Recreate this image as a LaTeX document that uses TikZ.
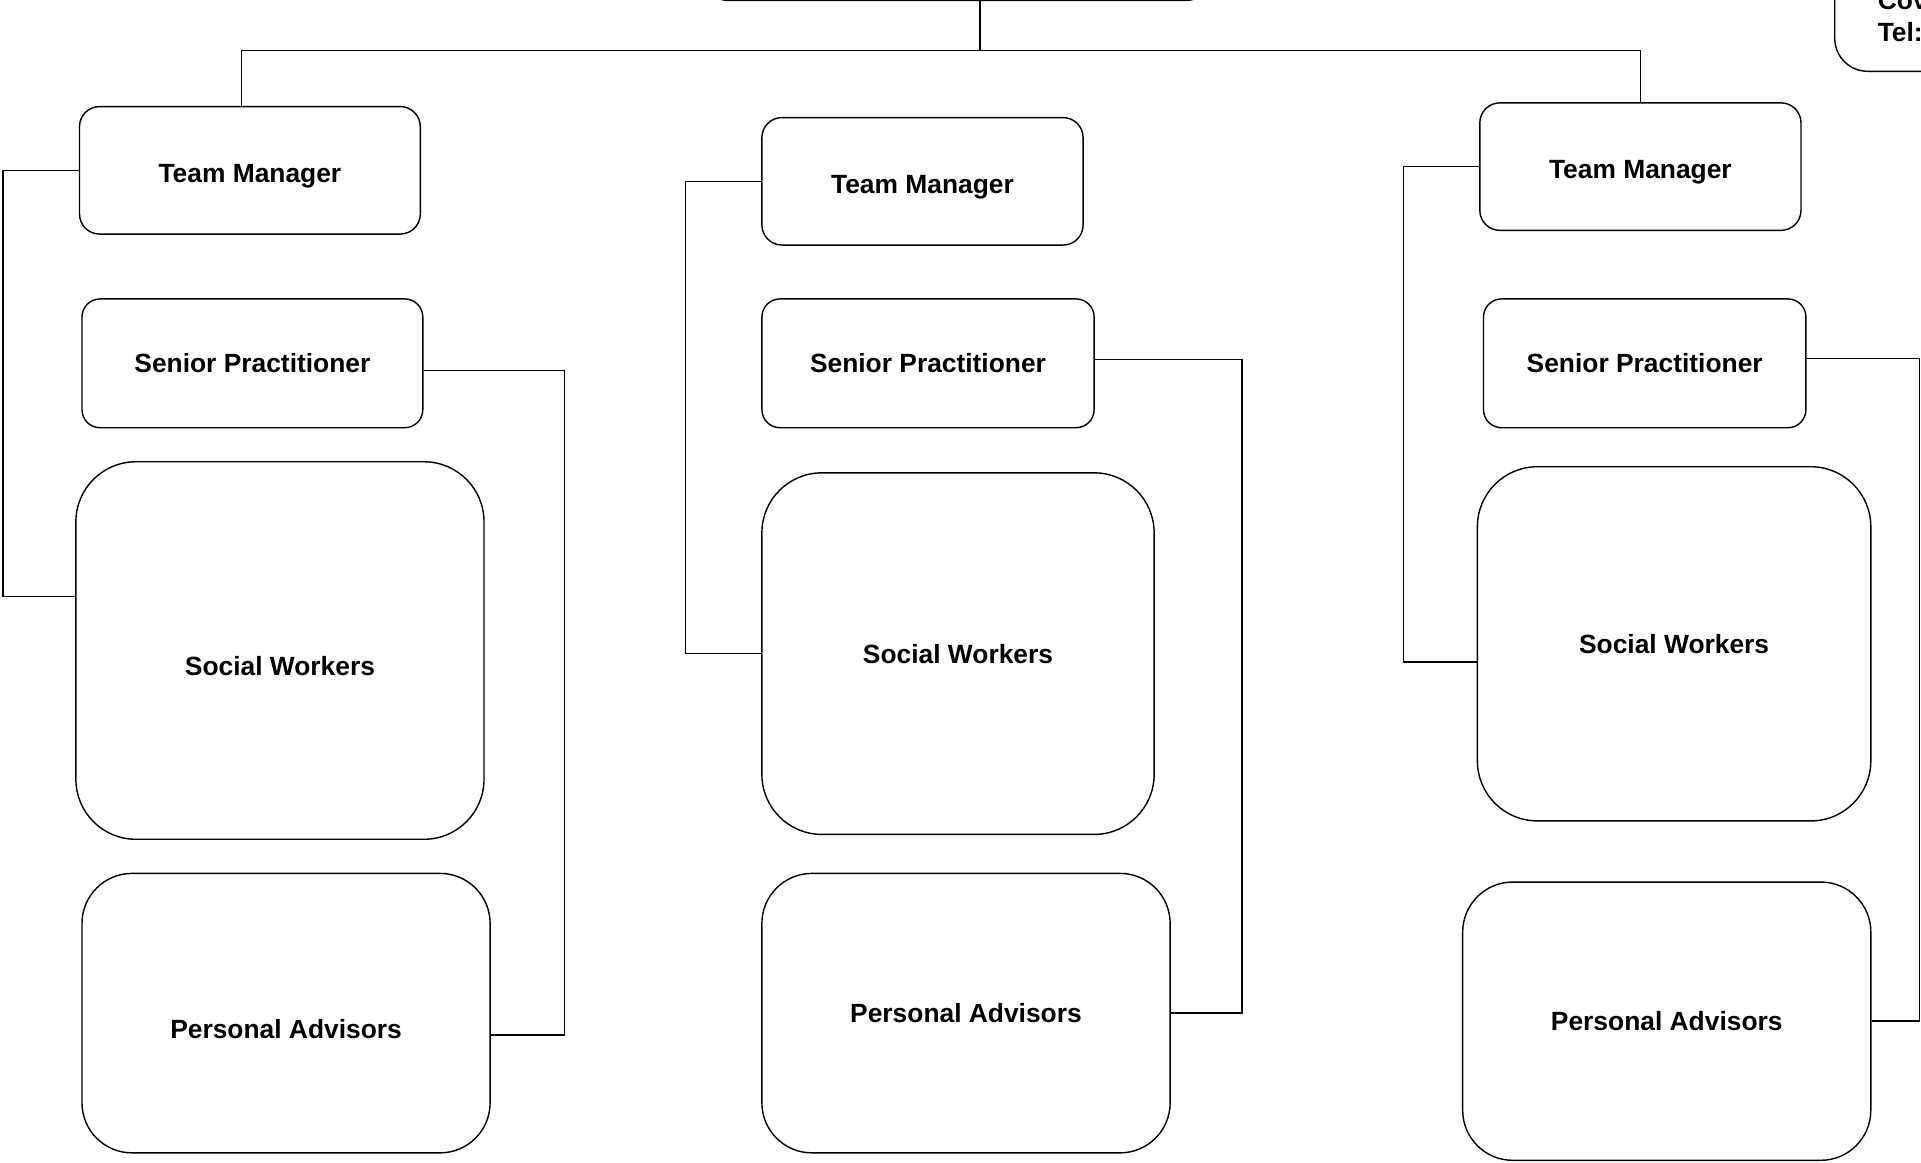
\documentclass[tikz,border=0pt]{standalone}
\usepackage{fontspec}
\setmainfont{Liberation Sans}
\begin{document}
\begin{tikzpicture}[x=0.01cm,y=-0.01cm]
            \tikzset{
	box/.style={draw,rounded corners=.2cm,inner sep=0,font=\fontsize{7.5}{9}\selectfont\bfseries},
	tm/.style={box,minimum width=3.21cm,minimum height=1.274cm,text height=.234cm,text depth=0pt},
	sp/.style={box,rounded corners=.18cm,minimum height=1.287cm},
	sw/.style={box,rounded corners=.6cm},
	pa/.style={box,rounded corners=.5cm},
	low/.style={text height=.5cm,text depth=0pt},
	link/.style={draw}
}
\useasboundingbox (0,0) rectangle (1921,1162);
\clip (0,0) rectangle (1921,1162);

% top of the chart
\node[box,minimum width=5cm,minimum height=1cm,anchor=south] (top) at (957,1) {};
\node[box,rounded corners=.33cm,anchor=south west,align=left,text width=2cm,inner xsep=.43cm,inner ysep=.3cm] (contact) at (1834,72) {Cov\\Tel:};

% first team
\node[tm,minimum width=3.406cm] (TM1) at (249.9,170.3) {Team Manager};
\node[sp,minimum width=3.406cm] (SP1) at (252.4,363.3) {Senior Practitioner};
\node[sw,low,minimum width=4.079cm,minimum height=3.773cm] (SW1) at (279.95,650.5) {Social Workers};
\node[pa,low,minimum width=4.079cm,minimum height=2.793cm] (PA1) at (286.05,1013.1) {Personal Advisors};

% second team
\node[tm] (TM2) at (922.5,181.3) {Team Manager};
\node[sp,minimum width=3.32cm] (SP2) at (928,363.3) {Senior Practitioner};
\node[sw,minimum width=3.92cm,minimum height=3.614cm] (SW2) at (958,653.6) {Social Workers};
\node[pa,minimum width=4.08cm,minimum height=2.793cm] (PA2) at (966,1013.1) {Personal Advisors};

% third team
\node[tm] (TM3) at (1640.4,166.6) {Team Manager};
\node[sp,minimum width=3.222cm] (SP3) at (1644.7,363.3) {Senior Practitioner};
\node[sw,minimum width=3.932cm,minimum height=3.54cm] (SW3) at (1674.1,643.8) {Social Workers};
\node[pa,minimum width=4.079cm,minimum height=2.781cm] (PA3) at (1666.75,1021.15) {Personal Advisors};

% lines from the top
\coordinate (hub) at (980,50.2);
\coordinate (bus1) at (241.3,50.2);
\coordinate (bus3) at (1640.4,50.2);
\draw (top.south -| hub) -- (hub);
\draw (bus1) -- (bus3);
\draw (bus1) -- (bus1 |- TM1.north);
\draw (bus3) -- (bus3 |- TM3.north);

% lines inside the teams
\draw (TM1.west) -- ++(-75.9,0) |- ([yshift=.54cm]SW1.west);
\draw ([yshift=-.07cm]SP1.east) -- ++(140.8,0) |- ([yshift=-.22cm]PA1.east);
\draw (TM2.west) -- ++(-75.9,0) |- (SW2.west);
\draw ([yshift=.04cm]SP2.east) -- ++(147,0) |- (PA2.east);
\draw (TM3.west) -- ++(-75.9,0) |- ([yshift=-.18cm]SW3.west);
\draw ([yshift=.05cm]SP3.east) -- ++(112.7,0) |- (PA3.east);
        \end{tikzpicture}
\end{document}
